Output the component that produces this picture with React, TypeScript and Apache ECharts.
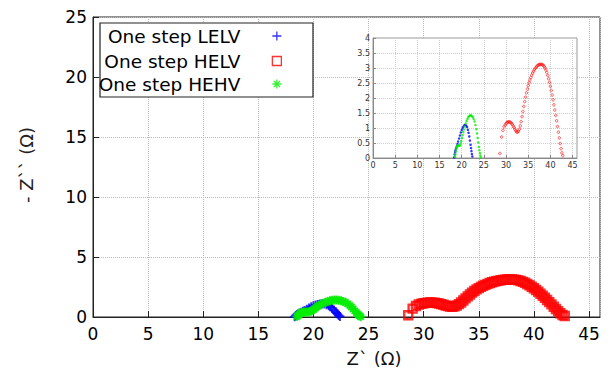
import React, { useEffect, useRef } from "react";
import * as echarts from "echarts";

const seriesNames = ["One step LELV", "One step HELV", "One step HEHV"];
const xTicks = [0, 5, 10, 15, 20, 25, 30, 35, 40, 45];
const yTicksMain = [0, 5, 10, 15, 20, 25];
const yTicksInset = [0, 0.5, 1, 1.5, 2, 2.5, 3, 3.5, 4];

const lelv: [number, number][] = [
  [18.3, 0.02], [18.4, 0.12], [18.5, 0.2], [18.6, 0.26], [18.75, 0.33], [18.9, 0.4],
  [19.05, 0.47], [19.2, 0.55], [19.4, 0.65], [19.6, 0.75], [19.8, 0.85], [20.0, 0.93],
  [20.2, 1.0], [20.4, 1.05], [20.6, 1.09], [20.8, 1.1], [21.0, 1.08], [21.2, 1.03],
  [21.4, 0.94], [21.55, 0.84], [21.7, 0.72], [21.85, 0.58], [22.0, 0.44], [22.1, 0.33],
  [22.2, 0.23], [22.3, 0.13], [22.4, 0.05],
];

const helv: [number, number][] = [
  [28.6, 0.15], [29.0, 0.7], [29.3, 0.92], [29.55, 1.04], [29.8, 1.1], [30.0, 1.15],
  [30.2, 1.18], [30.4, 1.2], [30.6, 1.21], [30.8, 1.2], [31.0, 1.19], [31.2, 1.16],
  [31.4, 1.12], [31.6, 1.07], [31.8, 1.02], [32.0, 0.96], [32.2, 0.91], [32.4, 0.87],
  [32.6, 0.86], [32.8, 0.89], [33.0, 0.96], [33.2, 1.07], [33.4, 1.21], [33.6, 1.38],
  [33.8, 1.55], [34.0, 1.72], [34.2, 1.88], [34.4, 2.03], [34.6, 2.17], [34.8, 2.3],
  [35.0, 2.41], [35.2, 2.51], [35.4, 2.6], [35.6, 2.68], [35.8, 2.76], [36.0, 2.83],
  [36.2, 2.89], [36.4, 2.95], [36.6, 2.99], [36.8, 3.03], [37.0, 3.06], [37.2, 3.09],
  [37.4, 3.11], [37.6, 3.12], [37.8, 3.12], [38.0, 3.12], [38.2, 3.11], [38.4, 3.09],
  [38.6, 3.05], [38.8, 3.0], [39.0, 2.93], [39.2, 2.85], [39.4, 2.75], [39.6, 2.64],
  [39.8, 2.52], [40.0, 2.39], [40.2, 2.25], [40.4, 2.1], [40.6, 1.94], [40.8, 1.77],
  [41.0, 1.6], [41.2, 1.42], [41.4, 1.24], [41.6, 1.05], [41.8, 0.86], [42.0, 0.67],
  [42.2, 0.48], [42.4, 0.31], [42.6, 0.17], [42.8, 0.08],
];

const hehv: [number, number][] = [
  [18.5, 0.04], [18.6, 0.12], [18.7, 0.22], [18.8, 0.3], [18.9, 0.36], [19.0, 0.4],
  [19.15, 0.42], [19.3, 0.42], [19.45, 0.41], [19.6, 0.42], [19.75, 0.48], [19.9, 0.56],
  [20.05, 0.66], [20.2, 0.76], [20.35, 0.86], [20.5, 0.95], [20.7, 1.05], [20.9, 1.15],
  [21.1, 1.23], [21.3, 1.3], [21.5, 1.36], [21.7, 1.4], [21.9, 1.42], [22.1, 1.42],
  [22.3, 1.4], [22.5, 1.36], [22.7, 1.3], [22.9, 1.22], [23.1, 1.1], [23.3, 0.96],
  [23.45, 0.82], [23.6, 0.67], [23.75, 0.52], [23.9, 0.37], [24.0, 0.26], [24.1, 0.16],
  [24.2, 0.08], [24.3, 0.02],
];

const BLUE = "#0000ff";
const RED = "#ff0000";
const GREEN = "#00ee00";
const FONT = "DejaVu Sans";

const PLUS = "path://M5,0L5,10M0,5L10,5";
const STAR = "path://M5,0L5,10M0,5L10,5M1.5,1.5L8.5,8.5M8.5,1.5L1.5,8.5";

export default function App() {
  const ref = useRef<HTMLDivElement>(null);
  useEffect(() => {
    if (!ref.current) return;
    const chart = echarts.init(ref.current, undefined, { renderer: "svg" });

    const mainAxisCommon = {
      type: "value" as const,
      axisLine: { show: true, lineStyle: { color: "#222", width: 1 } },
      axisTick: { show: true, inside: true, length: 6, lineStyle: { color: "#222" } },
      splitLine: { show: true, lineStyle: { color: "#bbb", type: "dotted" as const, width: 1 } },
      axisLabel: { fontSize: 17, fontFamily: FONT, color: "#000", showMaxLabel: false },
    };
    const insetAxisCommon = {
      type: "value" as const,
      z: 6,
      axisLine: { show: true, lineStyle: { color: "#888", width: 1 } },
      axisTick: { show: true, inside: true, length: 3, lineStyle: { color: "#888" } },
      splitLine: { show: true, lineStyle: { color: "#ccc", type: "dotted" as const, width: 1 } },
      axisLabel: { fontSize: 8, fontFamily: FONT, color: "#333", margin: 3, showMaxLabel: false },
    };

    const legendCommon = (name: string, icon: string, top: number, color: string) => ({
      data: [{ name, icon }],
      orient: "vertical" as const,
      align: "right" as const,
      right: 332,
      top,
      padding: 0,
      itemWidth: 9,
      itemHeight: 9,
      z: 5,
      itemStyle: { color: "transparent", borderColor: color, borderWidth: 1.3 },
      textStyle: { fontSize: 18.5, fontFamily: FONT, color: "#000", lineHeight: 20, padding: [0, 27, 0, 0] },
    });

    chart.setOption({
      animation: false,
      backgroundColor: "#fff",
      grid: [
        { left: 93, right: 14, top: 17, bottom: 55, show: true, borderColor: "#222", borderWidth: 1, backgroundColor: "transparent" },
        { left: 373, top: 38, width: 204, height: 120, show: true, borderColor: "#999", borderWidth: 1, backgroundColor: "#fff", z: 5 },
      ],
      xAxis: [
        { ...mainAxisCommon, gridIndex: 0, min: xTicks[0], max: 46, interval: 5,
          axisLabel: { ...mainAxisCommon.axisLabel, margin: 8 } },
        { ...insetAxisCommon, gridIndex: 1, min: xTicks[0], max: 46, interval: 5 },
      ],
      yAxis: [
        { ...mainAxisCommon, gridIndex: 0, min: yTicksMain[0], max: yTicksMain[yTicksMain.length - 1], interval: 5,
          axisLabel: { ...mainAxisCommon.axisLabel, showMaxLabel: true, margin: 6 } },
        { ...insetAxisCommon, gridIndex: 1, min: yTicksInset[0], max: yTicksInset[yTicksInset.length - 1], interval: 0.5,
          axisLabel: { ...insetAxisCommon.axisLabel, showMaxLabel: true } },
      ],
      legend: [
        legendCommon(seriesNames[0], PLUS, 26, BLUE),
        legendCommon(seriesNames[1], "rect", 51, RED),
        legendCommon(seriesNames[2], STAR, 74, GREEN),
      ],
      graphic: [
        { type: "rect", z: 3, shape: { x: 100, y: 23, width: 213, height: 74 }, style: { fill: "#fff", stroke: "#222", lineWidth: 1.2 } },
        { type: "text", z: 3, x: 374, y: 358, style: { text: "Z` (Ω)", font: `18px '${FONT}'`, fill: "#111", textAlign: "center", textVerticalAlign: "middle" } },
        { type: "text", z: 3, x: 26, y: 165, rotation: Math.PI / 2, style: { text: "- Z`` (Ω)", font: `18px '${FONT}'`, fill: "#222", textAlign: "center", textVerticalAlign: "middle" } },
      ],
      series: [
        { name: seriesNames[0], type: "scatter", xAxisIndex: 0, yAxisIndex: 0, data: lelv, symbol: PLUS, symbolSize: 9,
          itemStyle: { color: "transparent", borderColor: BLUE, borderWidth: 2 }, z: 2 },
        { name: seriesNames[1], type: "scatter", xAxisIndex: 0, yAxisIndex: 0, data: helv, symbol: "rect", symbolSize: 8,
          itemStyle: { color: "transparent", borderColor: RED, borderWidth: 2.4 }, z: 2 },
        { name: seriesNames[2], type: "scatter", xAxisIndex: 0, yAxisIndex: 0, data: hehv, symbol: STAR, symbolSize: 9,
          itemStyle: { color: "transparent", borderColor: GREEN, borderWidth: 2 }, z: 2 },
        { name: "inset LELV", type: "scatter", xAxisIndex: 1, yAxisIndex: 1, data: lelv, symbol: "circle", symbolSize: 2.5,
          itemStyle: { color: BLUE }, z: 7 },
        { name: "inset HELV", type: "scatter", xAxisIndex: 1, yAxisIndex: 1, data: helv, symbol: "circle", symbolSize: 2.5,
          itemStyle: { color: "transparent", borderColor: RED, borderWidth: 0.8 }, z: 7 },
        { name: "inset HEHV", type: "scatter", xAxisIndex: 1, yAxisIndex: 1, data: hehv, symbol: "circle", symbolSize: 2.5,
          itemStyle: { color: GREEN }, z: 7 },
      ],
    });
    return () => chart.dispose();
  }, []);
  return <div ref={ref} style={{ width: 614, height: 372, position: "absolute", left: 0, top: 0 }} />;
}
